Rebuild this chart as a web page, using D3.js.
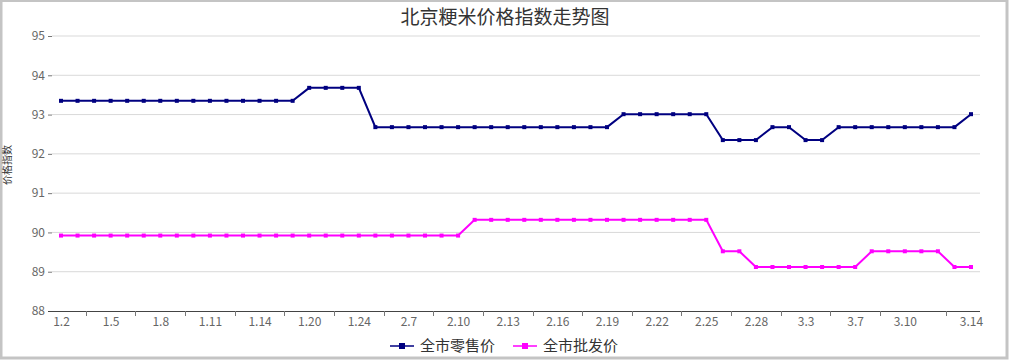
<!DOCTYPE html>
<html><head><meta charset="utf-8">
<script src="https://cdn.jsdelivr.net/npm/d3@7"></script>
<style>
html,body{margin:0;padding:0;background:#fff;}
svg{display:block;}
text{font-family:"Noto Sans CJK SC","Noto Sans",sans-serif;}
</style></head>
<body>
<svg id="c" width="1010" height="360"></svg>
<script>
const title = "北京粳米价格指数走势图";
const yTitle = "价格指数";
const dates = ["1.2","1.3","1.4","1.5","1.6","1.7","1.8","1.9","1.10","1.11","1.12","1.13","1.14","1.15","1.17","1.20","1.21","1.22","1.24","1.27","2.6","2.7","2.8","2.9","2.10","2.11","2.12","2.13","2.14","2.15","2.16","2.17","2.18","2.19","2.20","2.21","2.22","2.23","2.24","2.25","2.26","2.27","2.28","3.1","3.2","3.3","3.4","3.6","3.7","3.8","3.9","3.10","3.11","3.12","3.13","3.14"];
const shownLabels = ["1.2","1.5","1.8","1.11","1.14","1.20","1.24","2.7","2.10","2.13","2.16","2.19","2.22","2.25","2.28","3.3","3.7","3.10","3.14"];
const yTicks = [88,89,90,91,92,93,94,95];
const seriesNames = ["全市零售价","全市批发价"];
const retail = [
 93.35,93.35,93.35,93.35,93.35,93.35,93.35,93.35,93.35,93.35,93.35,93.35,93.35,93.35,93.35,
 93.68,93.68,93.68,93.68,
 92.68,92.68,92.68,92.68,92.68,92.68,92.68,92.68,92.68,92.68,92.68,92.68,92.68,92.68,92.68,
 93.01,93.01,93.01,93.01,93.01,93.01,
 92.35,92.35,92.35,
 92.68,92.68,
 92.35,92.35,
 92.68,92.68,92.68,92.68,92.68,92.68,92.68,92.68,
 93.01];
const wholesale = [
 89.92,89.92,89.92,89.92,89.92,89.92,89.92,89.92,89.92,89.92,89.92,89.92,89.92,89.92,89.92,89.92,89.92,89.92,89.92,89.92,89.92,89.92,89.92,89.92,89.92,
 90.32,90.32,90.32,90.32,90.32,90.32,90.32,90.32,90.32,90.32,90.32,90.32,90.32,90.32,90.32,
 89.52,89.52,
 89.12,89.12,89.12,89.12,89.12,89.12,89.12,
 89.52,89.52,89.52,89.52,89.52,
 89.12,89.12];
const colors = ["#000080","#ff00ff"];

const svg = d3.select("#c");
const W = 1010, H = 360;
// border
svg.append("rect").attr("x",1).attr("y",0.5).attr("width",W-4).attr("height",H-2.5)
  .attr("fill","#fff").attr("stroke","#c4c4c4").attr("stroke-width",3);

const plotL = 52, plotR = 980, plotT = 36, plotB = 311;
const x = d3.scalePoint().domain(dates).range([61, 971]);
const y = d3.scaleLinear().domain([88,95]).range([plotB, plotT]);
const step = x.step();

// gridlines
svg.append("g").selectAll("line").data(yTicks.filter(v=>v!==88)).join("line")
  .attr("x1",plotL).attr("x2",plotR).attr("y1",d=>y(d)).attr("y2",d=>y(d))
  .attr("stroke","#d9d9d9").attr("stroke-width",1);

// y axis
const ya = svg.append("g").attr("transform",`translate(${plotL},0)`)
  .call(d3.axisLeft(y).tickValues(yTicks).tickSize(4).tickPadding(3).tickFormat(d3.format("d")));
ya.select(".domain").remove();
ya.selectAll(".tick line").attr("stroke","#777");
ya.selectAll("text").attr("fill","#666").style("font-size","12px");

// x axis
svg.append("line").attr("x1",48).attr("x2",plotR).attr("y1",plotB+0.5).attr("y2",plotB+0.5)
  .attr("stroke","#444").attr("stroke-width",1);
const xa = svg.append("g").attr("transform",`translate(0,${plotB})`)
  .call(d3.axisBottom(x).tickValues(shownLabels).tickSize(0).tickPadding(6));
xa.select(".domain").remove();
xa.selectAll("text").attr("fill","#666").style("font-size","12px");
// tick marks between labels
svg.append("g").selectAll("line").data(shownLabels.slice(1)).join("line")
  .attr("x1",d=>Math.round(x(d)-1.5*step)+0.5).attr("x2",d=>Math.round(x(d)-1.5*step)+0.5)
  .attr("y1",plotB).attr("y2",plotB+5).attr("stroke","#777");

// y title
svg.append("text").attr("transform","translate(11,165) rotate(-90)")
  .attr("text-anchor","middle").attr("fill","#333").style("font-size","10px").text(yTitle);

// title
svg.append("text").attr("x",505).attr("y",24).attr("text-anchor","middle")
  .attr("fill","#333").style("font-size","19px").text(title);

// series
const series = [retail, wholesale];
const line = d3.line().x((d,i)=>x(dates[i])).y(d=>y(d));
series.forEach((s,k)=>{
  const g = svg.append("g");
  g.append("path").datum(s).attr("d",line).attr("fill","none")
    .attr("stroke",colors[k]).attr("stroke-width",2);
  g.selectAll("rect").data(s).join("rect")
    .attr("x",(d,i)=>x(dates[i])-2).attr("y",d=>y(d)-2)
    .attr("width",4).attr("height",4).attr("fill",colors[k]);
});

// legend
const legX = [390, 513];
seriesNames.forEach((n,k)=>{
  const g = svg.append("g").attr("transform",`translate(${legX[k]},346)`);
  g.append("line").attr("x1",0).attr("x2",24).attr("y1",0).attr("y2",0)
    .attr("stroke",colors[k]).attr("stroke-width",1.5);
  g.append("rect").attr("x",9).attr("y",-3).attr("width",6).attr("height",6).attr("fill",colors[k]);
  g.append("text").attr("x",30).attr("y",0).attr("dy","0.35em")
    .attr("fill","#333").style("font-size","15px").text(n);
});
</script>
</body></html>
